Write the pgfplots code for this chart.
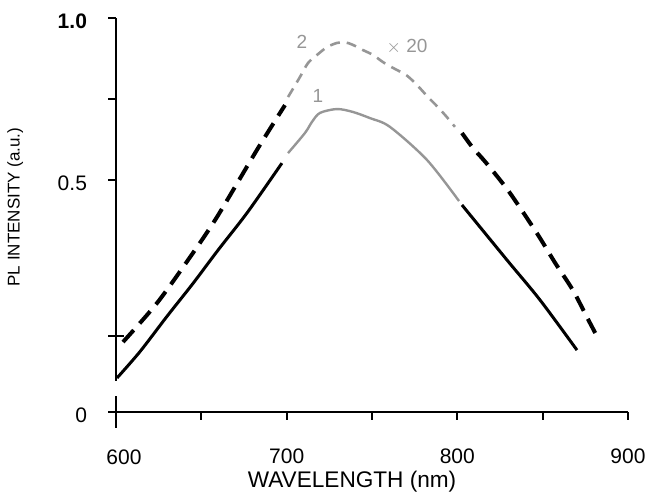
\documentclass[border=0pt]{standalone}
\usepackage{fontspec}
\setmainfont{Liberation Sans}
\usepackage{pgfplots}
\pgfplotsset{compat=1.18}
\usetikzlibrary{calc}
\definecolor{curvegray}{RGB}{150,150,150}

\begin{document}
\begin{tikzpicture}
\begin{axis}[
  name=ax,
  width=256pt, height=197pt, scale only axis,
  xmin=600, xmax=900, ymin=-0.216, ymax=1.0,
  axis x line=bottom, axis y line=left,
  axis line style={-, line width=1.1pt},
  y axis line style={draw=none},
  clip=false,
  tick align=outside,
  major tick length=4pt, minor tick length=4pt,
  every tick/.style={black, line width=1pt},
  xtick={700,800,900},
  minor xtick={650,750,850},
  extra x ticks={600},
  extra x tick style={major tick length=16pt, tick align=center,
    xticklabel style={xshift=4pt, yshift=3.5pt}},
  ytick={-0.216,0.5,1.0},
  yticklabels={0,0.5,\textbf{1.0}},
  minor ytick={0.75},
  extra y ticks={0.02},
  extra y tick labels={},
  extra y tick style={major tick length=8pt, tick align=center},
  /pgf/number format/assume math mode=true,
  xticklabel style={anchor=center, yshift=-18pt, font=\fontsize{10.5}{12}\selectfont},
  yticklabel style={anchor=east, xshift=-7pt, yshift=-1.5pt, font=\fontsize{10.5}{12}\selectfont},
  xlabel={WAVELENGTH (nm)},
  ylabel={PL INTENSITY (a.u.)},
  xlabel style={at={(axis description cs:0.461,-0.178)}, anchor=center, font=\fontsize{11.3}{13}\selectfont},
  ylabel style={at={(axis description cs:-0.197,0.52)}, anchor=center, rotate=0, font=\fontsize{8.5}{10}\selectfont},
]
% broken y axis line
\draw[line width=1.1pt] (axis cs:600,-0.12) -- (axis cs:600,1.0);

% curve 1 (solid)
\addplot[black, line width=1.5pt, smooth, tension=0.5] coordinates {
  (600.6,-0.111) (614.0,-0.030) (630.0,0.080) (645.0,0.180) (660.0,0.285) (677.0,0.400) (697.2,0.552)
};
\addplot[curvegray, line width=1.2pt, smooth, tension=0.5] coordinates {
  (700.8,0.583) (710.7,0.645) (714.8,0.679) (719.5,0.707) (729.5,0.719) (738.8,0.710)
  (748.8,0.691) (760.5,0.664) (782.2,0.562) (801.0,0.435)
};
\addplot[black, line width=1.5pt, smooth, tension=0.5] coordinates {
  (802.7,0.423) (829.1,0.253) (848.4,0.130) (870.1,-0.025)
};

% curve 2 (dashed, x 20)
\addplot[black, line width=2pt, dash pattern=on 8pt off 4.5pt, smooth, tension=0.5] coordinates {
  (604.1,0.000) (624.0,0.120) (643.4,0.262) (659.2,0.386) (682.6,0.593) (699.0,0.731)
};
\addplot[curvegray, line width=1.3pt, dash pattern=on 5pt off 3.5pt, smooth, tension=0.5] coordinates {
  (700.8,0.756) (707.8,0.818) (712.5,0.861) (717.8,0.886) (723.6,0.910) (729.5,0.923)
  (734.2,0.925) (738.8,0.917) (744.7,0.901) (750.6,0.886) (756.4,0.864) (762.3,0.846)
  (770.5,0.822) (776.9,0.790) (782.8,0.756) (788.6,0.725) (793.9,0.694) (798.6,0.664)
};
\addplot[black, line width=2pt, dash pattern=on 8pt off 4.5pt, smooth, tension=0.5] coordinates {
  (802.7,0.645) (809.1,0.599) (814.4,0.568) (820.3,0.531) (830.8,0.460) (846.6,0.336)
  (857.2,0.245) (867.7,0.160) (875.9,0.077) (882.4,0.012)
};

\node[curvegray, font=\fontsize{9.5}{11}\selectfont] at (axis cs:709,0.926) {2};
\node[curvegray, font=\fontsize{9.5}{11}\selectfont] at (axis cs:718.3,0.759) {1};
\node[curvegray, font=\fontsize{9.5}{11}\selectfont] at (axis cs:770.5,0.910) {$\times$ 20};
\end{axis}
\pgfresetboundingbox
\path[use as bounding box] ($(ax.south west)+(-58pt,-42pt)$) rectangle ($(ax.north east)+(9.5pt,9pt)$);
\end{tikzpicture}
\end{document}
